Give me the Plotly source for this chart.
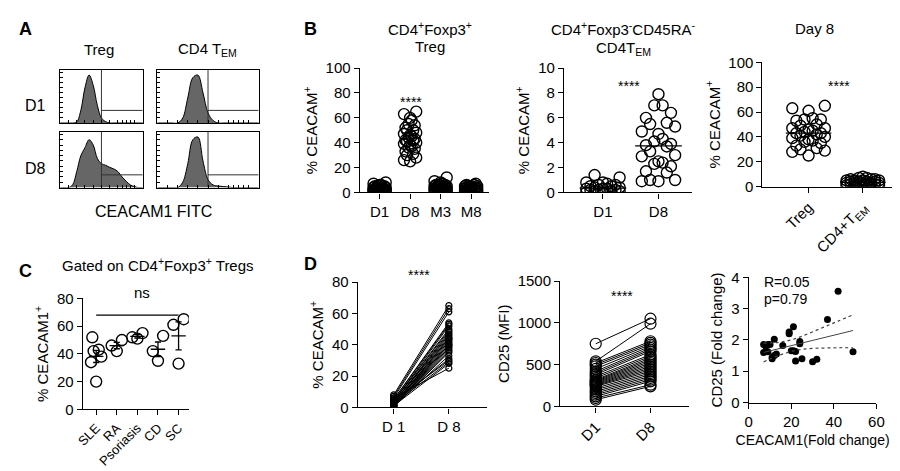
import numpy as np
import plotly.graph_objects as go

W, H = 900, 471
FONT = "Liberation Sans, Arial"

# ---- data ----
hist_grid = [round(i * 0.05, 2) for i in range(21)]
treg_d1 = [0, 0, 0, 0, 0.02, 0.25, 0.7, 0.95, 0.75, 0.35, 0.1, 0.03, 0, 0, 0, 0, 0, 0, 0, 0, 0]
tem_d1 = [0, 0, 0, 0, 0, 0.1, 0.5, 0.9, 0.95, 0.6, 0.2, 0.05, 0, 0, 0, 0, 0, 0, 0, 0, 0]
treg_d8 = [0, 0, 0, 0.05, 0.3, 0.6, 0.75, 0.9, 0.8, 0.55, 0.45, 0.42, 0.38, 0.35, 0.3, 0.2, 0.12, 0.05, 0.02, 0, 0]
tem_d8 = [0, 0, 0, 0, 0, 0.1, 0.45, 0.9, 0.95, 0.5, 0.15, 0.05, 0.03, 0.02, 0.01, 0, 0, 0, 0, 0, 0]

b1_cats = ["D1", "D8", "M3", "M8"]
b1_d1 = [1, 2, 3, 1, 4, 2, 5, 3, 6, 2, 1, 3, 4, 8, 2, 5, 3, 1, 2, 7, 4, 3, 2, 6, 1, 3, 5, 2, 4, 3]
b1_d8 = [65, 63, 60, 58, 55, 54, 52, 50, 50, 48, 47, 46, 45, 44, 43, 42, 42, 41, 40, 39, 38, 37, 36, 35, 33, 31, 30, 28, 26, 25]
b1_m3 = [2, 3, 5, 1, 4, 6, 3, 2, 7, 12, 4, 3, 5, 2, 1, 6, 4, 3, 8, 2, 5, 3, 4, 6, 2, 1, 3, 9, 4, 5]
b1_m8 = [1, 2, 3, 4, 5, 2, 3, 6, 4, 1, 3, 5, 2, 7, 4, 3, 2, 5, 6, 1, 3, 4, 2, 5, 3]

b2_cats = ["D1", "D8"]
b2_d1 = [1.4, 1.2, 0.8, 0.7, 0.6, 0.5, 0.5, 0.4, 0.3, 0.3, 0.2, 0.2, 0.1, 0.1, 0.0, 0.0, 0.2, 0.4, 0.6, 0.8, 0.1, 0.3]
b2_d8 = [7.9, 7.0, 7.0, 6.4, 6.0, 5.6, 5.5, 5.3, 4.9, 4.7, 4.3, 4.1, 3.9, 3.8, 3.7, 3.3, 3.0, 2.9, 2.5,
         2.4, 2.3, 2.1, 1.7, 1.6, 1.0, 0.9, 0.9, 1.0]

b3_cats = ["Treg", "CD4+T<sub>EM</sub>"]
b3_treg = [65, 63, 61, 55, 54, 54, 53, 50, 49, 47, 47, 46, 45, 44, 43, 43, 42, 41, 40, 39, 38, 37, 36, 35,
           33, 31, 30, 29, 28, 25]
b3_tem = [8, 7, 7, 6, 6, 5, 5, 5, 4, 4, 4, 3, 3, 3, 3, 2, 2, 2, 1, 1, 1, 6, 4, 2, 3, 5, 2, 1]

c_cats = ["SLE", "RA", "Psoriasis", "CD", "SC"]
c_vals = [[52, 43, 42, 38, 34, 20], [50, 46, 42], [55, 52, 51], [53, 42, 35], [65, 61, 33]]

d1_day1 = [8, 7, 6, 5, 5, 4, 4, 4, 3, 3, 3, 3, 2, 2, 2, 2, 2, 1, 1, 1, 1, 1, 0.5, 0.5, 3, 4, 2, 1, 6, 2]
d1_day8 = [65, 63, 61, 54, 53, 52, 50, 49, 48, 47, 46, 45, 44, 43, 42, 41, 40, 40, 39, 38, 37, 36, 35,
           33, 31, 30, 29, 28, 25, 44]
d2_day1 = [750, 540, 520, 500, 480, 450, 420, 400, 380, 360, 340, 320, 310, 300, 290, 280, 270, 260, 250,
           240, 220, 200, 180, 160, 140, 120, 100, 80]
d2_day8 = [1050, 990, 780, 760, 740, 720, 700, 680, 660, 620, 600, 580, 560, 540, 520, 500, 480, 460, 440,
           420, 400, 380, 360, 340, 320, 300, 260, 240]

d3_x = [7, 7, 8, 9, 9, 10, 11, 11, 12, 12, 13, 16, 19, 19, 20, 21, 21, 22, 22, 24, 24, 25, 30, 32, 37, 42, 49]
d3_y = [1.6, 1.85, 1.8, 1.62, 1.85, 1.85, 1.4, 1.45, 2.02, 1.5, 1.55, 1.82, 2.25, 2.2, 1.65, 2.42, 1.65,
        1.63, 1.33, 1.95, 1.88, 1.4, 1.3, 1.38, 2.65, 3.55, 1.62]
d3_band_x = [7, 14, 21, 28, 35, 42, 49]
d3_fit = [1.6, 1.72, 1.83, 1.95, 2.07, 2.18, 2.3]
d3_upper = [1.9, 1.92, 2.02, 2.2, 2.4, 2.6, 2.8]
d3_lower = [1.3, 1.5, 1.65, 1.72, 1.74, 1.75, 1.75]


def xd(a, b):
    return [a / W, b / W]


def yd(top, bottom):
    return [1 - bottom / H, 1 - top / H]


def swarm(vals, center, w=0.28):
    order = np.argsort(vals)
    offs = np.zeros(len(vals))
    pattern = [0, -1, 1, -0.5, 0.5, -0.75, 0.75, -0.25, 0.25]
    for k, i in enumerate(order):
        offs[i] = pattern[k % len(pattern)] * w
    return list(center + offs)


fig = go.Figure()
axfont = dict(family=FONT, size=15, color="black")
ax_common = dict(showline=True, linecolor="black", linewidth=1.3, showgrid=False, zeroline=False,
                 ticks="outside", tickcolor="black", ticklen=5, tickfont=axfont)
circle = dict(symbol="circle-open", color="black", size=11, line=dict(width=1.4))


def add_axes(n, xdom, ydom, xopts, yopts):
    fig.layout[f"xaxis{n}"] = dict(domain=xdom, anchor=f"y{n}", **ax_common)
    fig.layout[f"xaxis{n}"].update(xopts)
    fig.layout[f"yaxis{n}"] = dict(domain=ydom, anchor=f"x{n}", **ax_common)
    fig.layout[f"yaxis{n}"].update(yopts)


# ---- A: histograms ----
hists = [(1, treg_d1, (45, 129), (55, 110), 0.25), (2, tem_d1, (144, 247), (55, 110), 0.25),
         (3, treg_d8, (45, 129), (119, 177), 0.24), (4, tem_d8, (144, 247), (119, 177), 0.24)]
for n, ys, (x0, x1), (y0, y1), hy in hists:
    box = dict(showline=True, linecolor="black", linewidth=1, mirror=True, showgrid=False, zeroline=False,
               ticks="inside", ticklen=3, tickcolor="black", showticklabels=False)
    fig.layout[f"xaxis{n}"] = dict(domain=xd(x0, x1), anchor=f"y{n}", range=[0, 1],
                                   tickvals=[0.1, 0.2, 0.3, 0.4, 0.5, 0.6, 0.7, 0.75, 0.8, 0.85, 0.9], **box)
    fig.layout[f"yaxis{n}"] = dict(domain=yd(y0, y1), anchor=f"x{n}", range=[0, 1.05],
                                   tickvals=[i / 10 for i in range(11)], **box)
    fig.add_trace(go.Scatter(x=hist_grid, y=ys, mode="lines", fill="tozeroy", fillcolor="#666666",
                             line=dict(color="black", width=1, shape="spline"), xaxis=f"x{n}", yaxis=f"y{n}"))
    fig.add_trace(go.Scatter(x=[0.5, 0.5, None, 0.5, 1], y=[0, 1.05, None, hy, hy], mode="lines",
                             line=dict(color="#333333", width=1), xaxis=f"x{n}", yaxis=f"y{n}"))


def dot_panel(n, groups, xdom, ydom, yrange, ytick, xrange, ytitle, median=False, w=0.28, tickangle=0,
              ticktext=None):
    add_axes(n, xdom, ydom,
             dict(range=xrange, tickvals=list(range(len(groups))), ticktext=ticktext, tickangle=tickangle),
             dict(range=yrange, dtick=ytick, title=dict(text=ytitle, font=axfont, standoff=4)))
    for i, g in enumerate(groups):
        fig.add_trace(go.Scatter(x=swarm(g, i, w), y=g, mode="markers", marker=circle,
                                 xaxis=f"x{n}", yaxis=f"y{n}"))
        if median:
            m = float(np.median(g))
            fig.add_trace(go.Scatter(x=[i - 0.42, i + 0.42], y=[m, m], mode="lines",
                                     line=dict(color="black", width=1.3), xaxis=f"x{n}", yaxis=f"y{n}"))


ceacam = "% CEACAM<sup>+</sup>"
dot_panel(5, [b1_d1, b1_d8, b1_m3, b1_m8], xd(350, 482), yd(53, 182), [0, 100], 20, [-0.65, 3.6], ceacam,
          w=0.2, ticktext=b1_cats)
dot_panel(6, [b2_d1, b2_d8], xd(558, 688), yd(53, 182), [0, 10], 2, [-0.7, 1.6], ceacam, median=True,
          w=0.3, ticktext=b2_cats)
dot_panel(7, [b3_treg, b3_tem], xd(760, 898), yd(47, 176), [0, 100], 20, [-0.85, 1.65], ceacam, median=True,
          w=0.3, tickangle=-45, ticktext=b3_cats)

# ---- C ----
add_axes(8, xd(68, 176), yd(292, 407),
         dict(range=[-0.65, 4.5], tickvals=list(range(5)), ticktext=c_cats, tickangle=-45,
              tickfont=dict(family=FONT, size=13, color="black")),
         dict(range=[0, 80], dtick=20, title=dict(text="% CEACAM1<sup>+</sup>", font=axfont, standoff=4)))
for i, g in enumerate(c_vals):
    fig.add_trace(go.Scatter(x=swarm(g, i, 0.25), y=g, mode="markers", marker=circle, xaxis="x8", yaxis="y8"))
    m = float(np.mean(g))
    se = float(np.std(g, ddof=1) / np.sqrt(len(g)))
    fig.add_trace(go.Scatter(x=[i - 0.35, i + 0.35, None, i, i, None, i - 0.15, i + 0.15, None, i - 0.15, i + 0.15],
                             y=[m, m, None, m - se, m + se, None, m - se, m - se, None, m + se, m + se],
                             mode="lines", line=dict(color="black", width=1.3), xaxis="x8", yaxis="y8"))
fig.add_trace(go.Scatter(x=[0, 4], y=[68, 68], mode="lines", line=dict(color="black", width=1.2),
                         xaxis="x8", yaxis="y8"))


# ---- D paired ----
def paired(n, a, b, xdom, ydom, yrange, ytick, ytitle, ticktext, size, tickangle=0, xr=(-0.65, 1.7)):
    add_axes(n, xdom, ydom, dict(range=list(xr), tickvals=[0, 1], ticktext=ticktext, tickangle=tickangle),
             dict(range=yrange, dtick=ytick, title=dict(text=ytitle, font=axfont, standoff=4)))
    for u, v in zip(a, b):
        fig.add_trace(go.Scatter(x=[0, 1], y=[u, v], mode="lines+markers",
                                 marker=dict(symbol="circle-open", color="black", size=size, line=dict(width=1.2)),
                                 line=dict(color="black", width=1), xaxis=f"x{n}", yaxis=f"y{n}"))


paired(9, d1_day1, d1_day8, xd(348, 480), yd(275, 405), [0, 80], 20, ceacam, ["D 1", "D 8"], 6)
paired(10, d2_day1, d2_day8, xd(554, 685), yd(274, 404), [0, 1500], 500, "CD25 (MFI)", ["D1", "D8"], 11,
       tickangle=-45)

# ---- D scatter ----
add_axes(11, xd(746, 876), yd(270, 400),
         dict(range=[0, 60], dtick=20,
              title=dict(text="CEACAM1(Fold change)", font=dict(family=FONT, size=14, color="black"), standoff=6)),
         dict(range=[0, 4], dtick=1, title=dict(text="CD25 (Fold change)", font=axfont, standoff=4)))
fig.add_trace(go.Scatter(x=d3_x, y=d3_y, mode="markers", marker=dict(color="black", size=7),
                         xaxis="x11", yaxis="y11"))
fig.add_trace(go.Scatter(x=d3_band_x, y=d3_fit, mode="lines", line=dict(color="#444", width=1),
                         xaxis="x11", yaxis="y11"))
for band in (d3_upper, d3_lower):
    fig.add_trace(go.Scatter(x=d3_band_x, y=band, mode="lines", line=dict(color="#444", width=1.2, dash="dot",
                             shape="spline"), xaxis="x11", yaxis="y11"))

# ---- text ----
def txt(x, y, s, size=15, bold=False, xanchor="center"):
    fig.add_annotation(x=x / W, y=1 - y / H, xref="paper", yref="paper", text=f"<b>{s}</b>" if bold else s,
                       showarrow=False, xanchor=xanchor, yanchor="middle",
                       font=dict(family=FONT, size=size, color="black"))

txt(10, 12, "A", 18, True)
txt(300, 12, "B", 18, True)
txt(10, 264, "C", 18, True)
txt(300, 256, "D", 18, True)
txt(85, 34, "Treg")
txt(195, 34, "CD4 T<sub>EM</sub>")
txt(20, 92, "D1", 16)
txt(20, 157, "D8", 16)
txt(140, 202, "CEACAM1 FITC", 16)
txt(422, 12, "CD4<sup>+</sup>Foxp3<sup>+</sup>")
txt(422, 31, "Treg")
txt(618, 12, "CD4<sup>+</sup>Foxp3<sup>-</sup>CD45RA<sup>-</sup>")
txt(618, 33, "CD4T<sub>EM</sub>")
txt(813, 12, "Day 8")
txt(402, 88, "****", 14)
txt(624, 72, "****", 14)
txt(838, 72, "****", 14)
txt(45, 257, "Gated on CD4<sup>+</sup>Foxp3<sup>+</sup> Tregs", 15, xanchor="left")
txt(128, 286, "ns", 15)
txt(410, 268, "****", 14)
txt(617, 289, "****", 14)
txt(760, 275, "R=0.05", 14, xanchor="left")
txt(760, 293, "p=0.79", 14, xanchor="left")

fig.update_layout(width=W, height=H, margin=dict(l=0, r=0, t=0, b=0), showlegend=False,
                  plot_bgcolor="white", paper_bgcolor="white", font=dict(family=FONT, color="black"))
fig.write_html("out.html")
